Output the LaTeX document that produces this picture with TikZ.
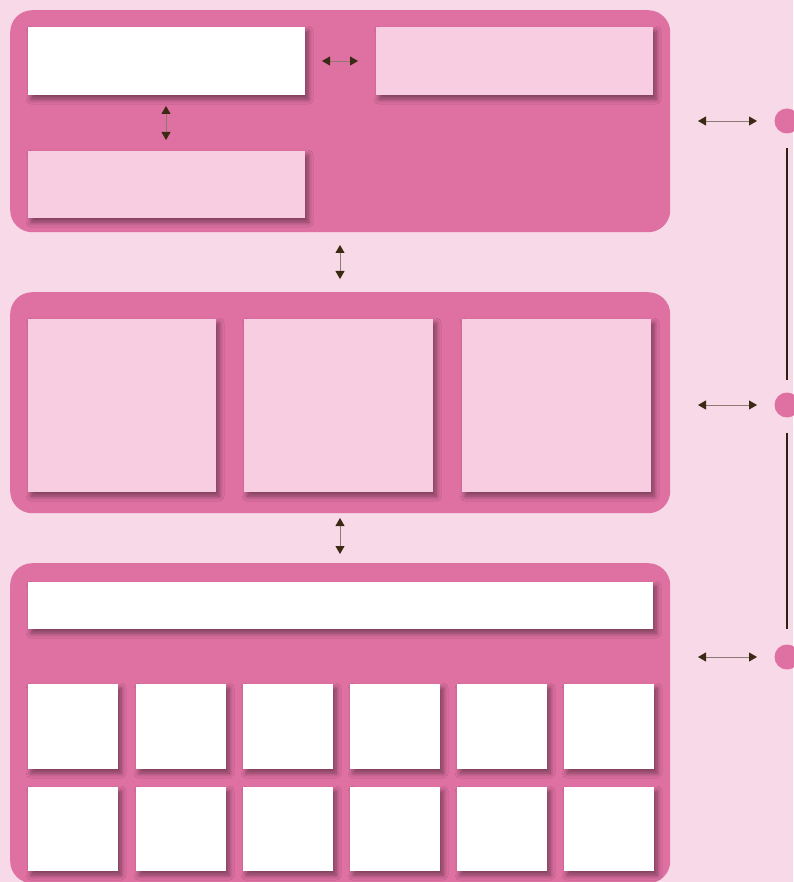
\documentclass[tikz,border=0pt]{standalone}
\usetikzlibrary{arrows.meta,shadows.blur}
\definecolor{bgpink}{HTML}{F8D9E7}
\definecolor{panelpink}{HTML}{DE70A2}
\definecolor{lightbox}{HTML}{F9CDE1}
\definecolor{arrowbrown}{HTML}{3A2A14}
\tikzset{
  panel/.style={fill=panelpink, rounded corners=22pt, inner sep=0pt, anchor=north west},
  box/.style={inner sep=0pt, anchor=north west,
    blur shadow={shadow xshift=3pt, shadow yshift=-4pt, shadow blur steps=8, shadow blur radius=5pt, shadow opacity=45}},
  whitebox/.style={box, fill=white},
  pinkbox/.style={box, fill=lightbox},
  dbl/.style={{Triangle[length=8pt,width=9pt,color=arrowbrown]}-{Triangle[length=8pt,width=9pt,color=arrowbrown]}, draw=arrowbrown!55!bgpink, line width=0.8pt},
  dot/.style={circle, fill=panelpink, minimum size=25pt, inner sep=0pt},
  vline/.style={draw=arrowbrown!80!black, line width=1.6pt}
}
\begin{document}
\begin{tikzpicture}[x=1pt,y=-1pt]
\fill[bgpink] (0,0) rectangle (793,882);
\useasboundingbox (0,0) rectangle (793,882);
% panels
\node[panel, minimum width=660pt, minimum height=222pt] (p1) at (10,10) {};
\node[panel, minimum width=660pt, minimum height=221pt] (p2) at (10,292) {};
\node[panel, minimum width=660pt, minimum height=320pt] (p3) at (10,563) {};
% top panel boxes
\node[whitebox, minimum width=277pt, minimum height=68pt] (a1) at (28,27) {};
\node[pinkbox, minimum width=277pt, minimum height=68pt] (a2) at (376,27) {};
\node[pinkbox, minimum width=277pt, minimum height=67pt] (a3) at (28,151) {};
% middle panel boxes
\node[pinkbox, minimum width=188pt, minimum height=173pt] (b1) at (28,319) {};
\node[pinkbox, minimum width=189pt, minimum height=173pt] (b2) at (244,319) {};
\node[pinkbox, minimum width=189pt, minimum height=173pt] (b3) at (462,319) {};
% bottom panel
\node[whitebox, minimum width=625pt, minimum height=47pt] (c0) at (28,582) {};
\foreach \i/\x in {1/28,2/136,3/243,4/350,5/457,6/564}{
  \node[whitebox, minimum width=90pt, minimum height=85pt] (r1c\i) at (\x,684) {};
  \node[whitebox, minimum width=90pt, minimum height=84pt] (r2c\i) at (\x,787) {};
}
% internal arrows
\coordinate (h1) at (322,61); \coordinate (h2) at (358,61);
\draw[dbl] (h1) -- (h2);
\coordinate (v1) at (166,106); \coordinate (v2) at (166,140);
\draw[dbl] (v1) -- (v2);
\coordinate (m1) at (340,245); \coordinate (m2) at (340,279);
\draw[dbl] (m1) -- (m2);
\coordinate (n1) at (340,518); \coordinate (n2) at (340,554);
\draw[dbl] (n1) -- (n2);
% right side
\node[dot] (d1) at (787,121) {};
\node[dot] (d2) at (787,405) {};
\node[dot] (d3) at (787,657) {};
\coordinate (e1a) at (698,121); \coordinate (e1b) at (757,121);
\coordinate (e2a) at (698,405); \coordinate (e2b) at (757,405);
\coordinate (e3a) at (698,657); \coordinate (e3b) at (757,657);
\draw[dbl] (e1a) -- (e1b);
\draw[dbl] (e2a) -- (e2b);
\draw[dbl] (e3a) -- (e3b);
\draw[vline, shorten <=14pt, shorten >=12pt] (d1.south) -- (d2.north);
\draw[vline, shorten <=15pt, shorten >=15pt] (d2.south) -- (d3.north);
\end{tikzpicture}
\end{document}
